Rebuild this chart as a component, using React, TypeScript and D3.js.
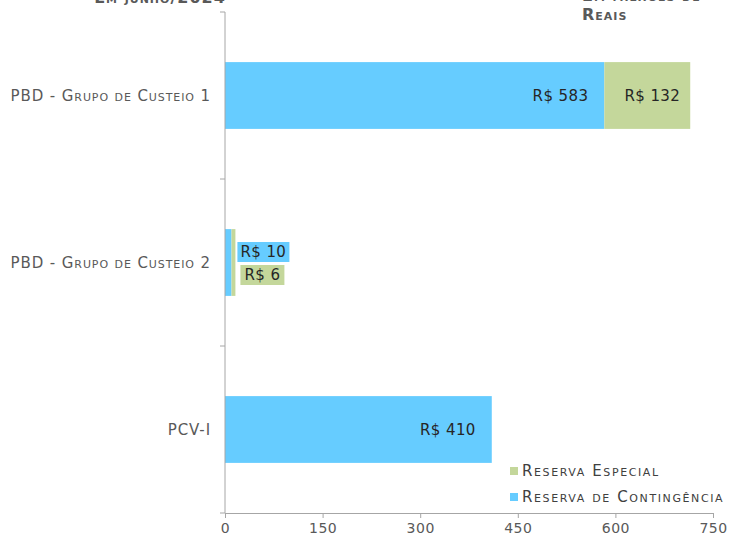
import { useEffect, useRef } from 'react';
import * as d3 from 'd3';

// Values in millions of reais
const categories = ['PBD - Grupo de Custeio 1', 'PBD - Grupo de Custeio 2', 'PCV-I'];
const contingencia = [583, 10, 410];
const especial = [132, 6, 0];
const xTicks = [0, 150, 300, 450, 600, 750];

const BLUE = '#66CCFF';
const GREEN = '#C4D79B';
const FONT = '"DejaVu Sans", Verdana, sans-serif';

const App = () => {
  const svgRef = useRef<SVGSVGElement | null>(null);
  const width = 732;
  const height = 536;

  useEffect(() => {
    const svg = d3.select(svgRef.current);
    svg.selectAll('*').remove();

    const margin = { top: 12, left: 225, right: 19, bottom: 23 };

    const x = d3.scaleLinear()
      .domain([0, 750])
      .range([margin.left, width - margin.right]);

    const y = d3.scaleBand()
      .domain(categories)
      .range([margin.top, height - margin.bottom])
      .paddingInner(0.6)
      .paddingOuter(0.3);

    const rows = categories.map((c, i) => ({ name: c, a: contingencia[i], b: especial[i] }));

    // bars
    const g = svg.append('g');
    g.selectAll('.bar-a')
      .data(rows)
      .enter().append('rect')
      .attr('x', x(0))
      .attr('y', (d) => y(d.name) ?? 0)
      .attr('width', (d) => x(d.a) - x(0))
      .attr('height', y.bandwidth())
      .attr('fill', BLUE);

    g.selectAll('.bar-b')
      .data(rows.filter((d) => d.b > 0))
      .enter().append('rect')
      .attr('x', (d) => x(d.a))
      .attr('y', (d) => y(d.name) ?? 0)
      .attr('width', (d) => x(d.a + d.b) - x(d.a))
      .attr('height', y.bandwidth())
      .attr('fill', GREEN);

    // axes
    const axisColor = '#A6A6A6';
    const yAxis = svg.append('g')
      .attr('transform', `translate(${margin.left},0)`);
    yAxis.append('line')
      .attr('x1', 0).attr('x2', 0)
      .attr('y1', margin.top).attr('y2', height - margin.bottom)
      .attr('stroke', axisColor);
    const step = y.step();
    d3.range(categories.length + 1).forEach((i) => {
      const yy = margin.top + i * step;
      yAxis.append('line')
        .attr('x1', -5).attr('x2', 0)
        .attr('y1', yy).attr('y2', yy)
        .attr('stroke', axisColor);
    });
    yAxis.selectAll('.cat')
      .data(categories)
      .enter().append('text')
      .attr('x', -14)
      .attr('y', (d) => (y(d) ?? 0) + y.bandwidth() / 2)
      .attr('dy', '0.35em')
      .attr('text-anchor', 'end')
      .attr('font-family', FONT)
      .attr('font-size', 15)
      .attr('letter-spacing', 0.9)
      .attr('font-variant', 'small-caps')
      .attr('fill', '#595959')
      .text((d) => d);

    const xAxis = svg.append('g')
      .attr('transform', `translate(0,${height - margin.bottom})`)
      .call(d3.axisBottom(x).tickValues(xTicks).tickSize(5).tickPadding(5).tickFormat(d3.format('d')));
    xAxis.select('.domain').attr('stroke', axisColor);
    xAxis.selectAll('line').attr('stroke', axisColor);
    xAxis.selectAll('text')
      .attr('font-family', FONT)
      .attr('font-size', 14)
      .attr('letter-spacing', 0.5)
      .attr('fill', '#595959');

    // data labels
    const labelFont = (sel: d3.Selection<SVGTextElement, any, any, any>) =>
      sel.attr('font-family', FONT).attr('font-size', 15).attr('letter-spacing', 0.4).attr('fill', '#262626');

    rows.filter((d) => d.a > 100).forEach((d) => {
      labelFont(svg.append('text')
        .attr('x', x(d.a) - 16)
        .attr('y', (y(d.name) ?? 0) + y.bandwidth() / 2)
        .attr('dy', '0.35em')
        .attr('text-anchor', 'end'))
        .text(`R$ ${d.a}`);
    });
    rows.filter((d) => d.b > 100).forEach((d) => {
      labelFont(svg.append('text')
        .attr('x', x(d.a + d.b) - 10)
        .attr('y', (y(d.name) ?? 0) + y.bandwidth() / 2)
        .attr('dy', '0.35em')
        .attr('text-anchor', 'end'))
        .text(`R$ ${d.b}`);
    });

    // small bar labels moved beside the bar, with filled boxes
    const small = rows[1];
    const cy = (y(small.name) ?? 0) + y.bandwidth() / 2;
    const boxes = [
      { text: `R$ ${small.a}`, fill: BLUE, x0: x(small.a + small.b) + 2, cy: cy - 10.5, w: 52 },
      { text: `R$ ${small.b}`, fill: GREEN, x0: x(small.a + small.b) + 5, cy: cy + 12.5, w: 44 },
    ];
    boxes.forEach((b) => {
      svg.append('rect')
        .attr('x', b.x0).attr('y', b.cy - 10)
        .attr('width', b.w).attr('height', 20)
        .attr('fill', b.fill);
      labelFont(svg.append('text')
        .attr('x', b.x0 + b.w / 2)
        .attr('y', b.cy)
        .attr('dy', '0.35em')
        .attr('text-anchor', 'middle'))
        .text(b.text);
    });

    // legend
    const legend = [
      { label: 'Reserva Especial', color: GREEN },
      { label: 'Reserva de Contingência', color: BLUE },
    ];
    legend.forEach((l, i) => {
      const ly = 471 + i * 26;
      svg.append('rect')
        .attr('x', 510).attr('y', ly - 4)
        .attr('width', 8).attr('height', 8)
        .attr('fill', l.color);
      svg.append('text')
        .attr('x', 522).attr('y', ly)
        .attr('dy', '0.35em')
        .attr('font-family', FONT)
        .attr('font-size', 15)
        .attr('letter-spacing', 1.6)
        .attr('font-variant', 'small-caps')
        .attr('fill', '#404040')
        .text(l.label);
    });

    // titles (partly cropped at the top)
    const title = (sel: d3.Selection<SVGTextElement, any, any, any>) =>
      sel.attr('font-family', FONT).attr('font-size', 16).attr('font-weight', 'bold')
        .attr('letter-spacing', 1)
        .attr('font-variant', 'small-caps').attr('fill', '#595959');
    title(svg.append('text').attr('x', 160).attr('y', 3).attr('text-anchor', 'middle'))
      .text('Em junho/2024');
    title(svg.append('text').attr('x', 582).attr('y', 1)).text('Em milhões de');
    title(svg.append('text').attr('x', 582).attr('y', 20)).text('Reais');
  }, []);

  return (
    <svg
      ref={svgRef}
      width={width}
      height={height}
      style={{ position: 'absolute', left: 0, top: 0, background: '#fff' }}
    />
  );
};

export default App;
